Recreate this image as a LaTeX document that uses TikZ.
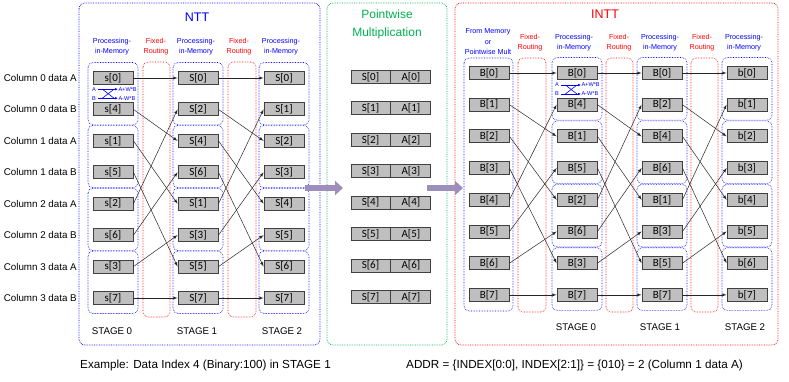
\documentclass[tikz,border=0pt]{standalone}
\usepackage{fontspec}
\setmainfont{Liberation Sans}
\newfontfamily\cellfont{Carlito}
\usetikzlibrary{arrows.meta}

\definecolor{pwgreen}{RGB}{0,176,80}
\definecolor{flowpurple}{RGB}{158,142,188}
\definecolor{cellgray}{RGB}{191,191,191}

\begin{document}
\begin{tikzpicture}[x=1pt, y=-1pt,
    cell/.style={rectangle, draw=black!75, fill=cellgray, line width=0.9pt,
      minimum width=40pt, minimum height=13pt, inner sep=0pt,
      font=\cellfont\fontsize{11}{11}\selectfont},
    frame/.style={densely dotted, line width=0.7pt, rounded corners=6pt},
    pim/.style={draw=blue, densely dotted, line width=0.6pt, rounded corners=5pt},
    route/.style={draw=red, densely dotted, line width=0.6pt, rounded corners=5pt},
    wire/.style={->, >=latex, black!85, line width=0.5pt},
    flow/.style={draw=flowpurple, line width=6pt, -{Triangle[length=8pt,width=14pt]}},
    rowlabel/.style={anchor=east, inner sep=0pt, font=\fontsize{9.8}{11}\selectfont},
    head/.style={align=center, inner sep=0pt, font=\fontsize{7.2}{10}\selectfont},
    stagelabel/.style={inner sep=0pt, font=\fontsize{9.7}{11}\selectfont},
    bfly/.style={inner sep=0.3pt, text=blue, font=\fontsize{5.6}{6}\selectfont},
    bflyline/.style={blue, line width=0.6pt},
    note/.style={anchor=west, inner sep=0pt, font=\fontsize{11.7}{13}\selectfont},
  ]
  \useasboundingbox (0,0) rectangle (789,382);

  % outer frames
  \draw[frame, blue]    (79,3)  rectangle (320,345);
  \draw[frame, pwgreen] (327,3) rectangle (447,345);
  \draw[frame, red]     (455,3) rectangle (778,345);

  \node[text=blue, font=\fontsize{12.5}{14}\selectfont] (ntttitle) at (197,17) {NTT};
  \node[text=pwgreen, align=center, font=\fontsize{12}{18}\selectfont] (pwtitle) at (387,24)
    {Pointwise\\Multiplication};
  \node[text=red, font=\fontsize{12.5}{14}\selectfont] (intttitle) at (605,14) {INTT};

  % column headings
  \node[head, text=blue] (hn0) at (112,47) {Processing-\\in-Memory};
  \node[head, text=red]  (hr0) at (156,47) {Fixed-\\Routing};
  \node[head, text=blue] (hn1) at (196,47) {Processing-\\in-Memory};
  \node[head, text=red]  (hr1) at (239,47) {Fixed-\\Routing};
  \node[head, text=blue] (hn2) at (281,47) {Processing-\\in-Memory};

  \node[head, text=blue, font=\fontsize{7.2}{10.5}\selectfont] (hi0) at (488,42)
    {From Memory\\or\\Pointwise Mult};
  \node[head, text=red]  (hq0) at (530,43) {Fixed-\\Routing};
  \node[head, text=blue] (hi1) at (574,43) {Processing-\\in-Memory};
  \node[head, text=red]  (hq1) at (619,43) {Fixed-\\Routing};
  \node[head, text=blue] (hi2) at (660,43) {Processing-\\in-Memory};
  \node[head, text=red]  (hq2) at (702,43) {Fixed-\\Routing};
  \node[head, text=blue] (hi3) at (744,43) {Processing-\\in-Memory};

  % routing and PIM groups
  \draw[route] (143,62) rectangle (170,317);
  \draw[route] (228,62) rectangle (256,317);
  \draw[route] (518,58) rectangle (546,312);
  \draw[route] (606,58) rectangle (633,312);
  \draw[route] (691,58) rectangle (718,312);
  \draw[pim] (464,58) rectangle (513,311);
  \foreach \k in {0,...,3} {
    \pgfmathsetmacro{\gt}{78+62.86*\k-15.5}
    \pgfmathsetmacro{\gb}{78+62.86*\k+31.43+15.5}
    \foreach \cx in {113,198,284}
      \draw[pim] (\cx-25,\gt) rectangle (\cx+25,\gb);
    \pgfmathsetmacro{\ht}{73+63.4*\k-15.5}
    \pgfmathsetmacro{\hb}{73+63.4*\k+31.7+15.5}
    \foreach \cx in {577,662,747}
      \draw[pim] (\cx-25,\ht) rectangle (\cx+25,\hb);
  }

  % row labels
  \foreach \r/\cn/\dn in {0/0/A,1/0/B,2/1/A,3/1/B,4/2/A,5/2/B,6/3/A,7/3/B} {
    \pgfmathsetmacro{\ry}{78+31.43*\r}
    \node[rowlabel] (lab-\r) at (77,\ry) {Column \cn{} data \dn};
  }

  % NTT cells
  \foreach \r/\k in {0/0,1/4,2/1,3/5,4/2,5/6,6/3,7/7} {
    \pgfmathsetmacro{\ry}{78+31.43*\r}
    \node[cell] (n0-\r) at (113,\ry) {s[\k]};
  }
  \foreach \r/\k in {0/0,1/2,2/4,3/6,4/1,5/3,6/5,7/7} {
    \pgfmathsetmacro{\ry}{78+31.43*\r}
    \node[cell] (n1-\r) at (198,\ry) {S[\k]};
  }
  \foreach \r in {0,...,7} {
    \pgfmathsetmacro{\ry}{78+31.43*\r}
    \node[cell] (n2-\r) at (284,\ry) {S[\r]};
  }

  % pointwise cells
  \foreach \r in {0,...,7} {
    \pgfmathsetmacro{\ry}{77+31.43*\r}
    \node[cell, minimum width=39pt] (pws-\r) at (370.5,\ry) {S[\r]};
    \node[cell, anchor=west] (pwa-\r) at (pws-\r.east) {A[\r]};
  }

  % INTT cells
  \foreach \r in {0,...,7} {
    \pgfmathsetmacro{\ry}{73+31.7*\r}
    \node[cell] (i0-\r) at (489,\ry) {B[\r]};
  }
  \foreach \r/\k in {0/0,1/4,2/1,3/5,4/2,5/6,6/3,7/7} {
    \pgfmathsetmacro{\ry}{73+31.7*\r}
    \node[cell] (i1-\r) at (577,\ry) {B[\k]};
  }
  \foreach \r/\k in {0/0,1/2,2/4,3/6,4/1,5/3,6/5,7/7} {
    \pgfmathsetmacro{\ry}{73+31.7*\r}
    \node[cell] (i2-\r) at (662,\ry) {B[\k]};
  }
  \foreach \r in {0,...,7} {
    \pgfmathsetmacro{\ry}{73+31.7*\r}
    \node[cell] (i3-\r) at (747,\ry) {b[\r]};
  }

  % fixed routing wires (perfect shuffle)
  \foreach \a/\b in {0/0,1/2,2/4,3/6,4/1,5/3,6/5,7/7} {
    \draw[wire] (n0-\a.east) -- (n1-\b.west);
    \draw[wire] (n1-\a.east) -- (n2-\b.west);
    \draw[wire] (i0-\a.east) -- (i1-\b.west);
    \draw[wire] (i1-\a.east) -- (i2-\b.west);
    \draw[wire] (i2-\a.east) -- (i3-\b.west);
  }

  % butterfly legend
  \foreach \bx/\by/\bn in {94/93.7/bn, 557/89.5/bi} {
    \node[bfly] (\bn-a) at (\bx,\by-4.5) {A};
    \node[bfly] (\bn-b) at (\bx,\by+4.5) {B};
    \node[bfly, anchor=west] (\bn-s) at (\bx+24,\by-4.5) {A+W*B};
    \node[bfly, anchor=west] (\bn-d) at (\bx+24,\by+4.5) {A-W*B};
    \draw[bflyline, -{Latex[length=3pt,width=2.6pt]}] ([xshift=2pt]\bn-a.east) -- (\bn-s.west);
    \draw[bflyline, -{Latex[length=3pt,width=2.6pt]}] ([xshift=2pt]\bn-b.east) -- (\bn-d.west);
    \draw[bflyline] ([xshift=6pt]\bn-a.east) -- ([xshift=-4pt]\bn-d.west);
    \draw[bflyline] ([xshift=6pt]\bn-b.east) -- ([xshift=-4pt]\bn-s.west);
  }

  % stage labels
  \node[stagelabel] (st0) at (112,331) {STAGE 0};
  \node[stagelabel] (st1) at (197,331) {STAGE 1};
  \node[stagelabel] (st2) at (282,331) {STAGE 2};
  \node[stagelabel] (it0) at (576,327) {STAGE 0};
  \node[stagelabel] (it1) at (660,327) {STAGE 1};
  \node[stagelabel] (it2) at (745,327) {STAGE 2};

  % data flow between blocks
  \coordinate (nttout) at (305,188);
  \coordinate (pwin)   at (343,188);
  \coordinate (pwout)  at (427,188);
  \coordinate (inttin) at (463,188);
  \draw[flow] (nttout) -- (pwin);
  \draw[flow] (pwout) -- (inttin);

  \node[note] (example) at (80,365) {Example: Data Index 4 (Binary:100) in STAGE 1};
  \node[note] (addr) at (406,365) {ADDR = \{INDEX[0:0], INDEX[2:1]\} = \{010\} = 2 (Column 1 data A)};
\end{tikzpicture}
\end{document}
